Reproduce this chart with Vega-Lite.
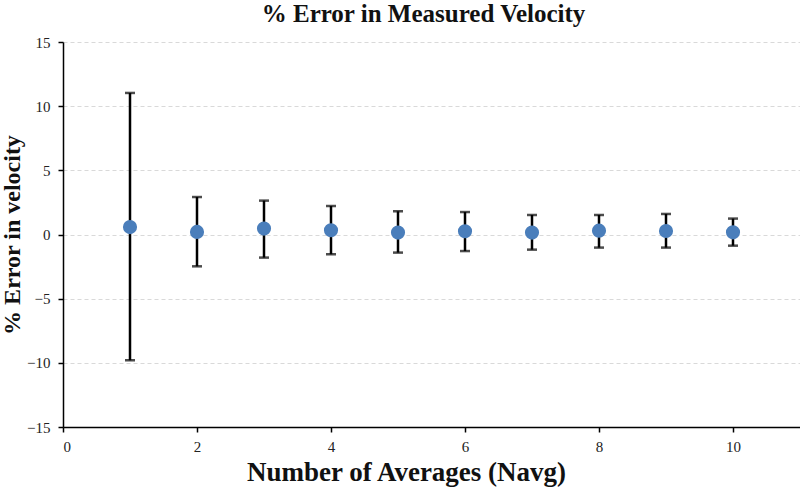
{
  "$schema": "https://vega.github.io/schema/vega-lite/v6.json",
  "autosize": "none",
  "width": 737,
  "height": 385,
  "padding": {"left": 63, "top": 42, "right": 0, "bottom": 61},
  "background": "white",
  "config": {
    "view": {"stroke": null},
    "font": "Liberation Serif"
  },
  "title": {
    "text": "% Error in Measured Velocity",
    "font": "Liberation Serif",
    "fontSize": 25,
    "fontWeight": "bold",
    "color": "#111",
    "offset": 8,
    "dx": -8
  },
  "data": {
    "values": [
      {"n": 1, "err": 0.58, "lo": -9.8, "hi": 11.03},
      {"n": 2, "err": 0.2, "lo": -2.48, "hi": 2.92},
      {"n": 3, "err": 0.46, "lo": -1.8, "hi": 2.64},
      {"n": 4, "err": 0.33, "lo": -1.54, "hi": 2.22},
      {"n": 5, "err": 0.15, "lo": -1.41, "hi": 1.81},
      {"n": 6, "err": 0.25, "lo": -1.29, "hi": 1.75},
      {"n": 7, "err": 0.15, "lo": -1.18, "hi": 1.52},
      {"n": 8, "err": 0.3, "lo": -1.02, "hi": 1.52},
      {"n": 9, "err": 0.27, "lo": -1.02, "hi": 1.6},
      {"n": 10, "err": 0.17, "lo": -0.87, "hi": 1.24}
    ]
  },
  "encoding": {
    "x": {
      "field": "n",
      "type": "quantitative",
      "scale": {"domain": [0, 11], "nice": false},
      "axis": {
        "title": "Number of Averages (Navg)",
        "titleFont": "Liberation Serif",
        "titleFontSize": 27,
        "titleFontWeight": "bold",
        "titleColor": "#111",
        "titleX": 343,
        "titleY": 53,
        "titleAlign": "center",
        "titleBaseline": "alphabetic",
        "values": [0, 2, 4, 6, 8, 10],
        "format": "d",
        "grid": false,
        "domainColor": "#000",
        "domainWidth": 1.5,
        "tickColor": "#000",
        "tickWidth": 1.5,
        "tickSize": 5,
        "labelFont": "Liberation Serif",
        "labelFontSize": 15,
        "labelColor": "#222",
        "labelPadding": 7
      }
    }
  },
  "layer": [
    {
      "mark": {"type": "rule", "color": "#000", "strokeWidth": 2.5},
      "encoding": {
        "y": {
          "field": "lo",
          "type": "quantitative",
          "scale": {"domain": [-15, 15], "nice": false},
          "axis": {
            "title": "% Error in velocity",
            "titleFont": "Liberation Serif",
            "titleFontSize": 24,
            "titleFontWeight": "bold",
            "titleColor": "#111",
            "titlePadding": 2,
            "values": [-15, -10, -5, 0, 5, 10, 15],
            "format": "d",
            "grid": true,
            "gridColor": "#d9d9d9",
            "gridDash": [4, 3],
            "gridWidth": 1,
            "domainColor": "#000",
            "domainWidth": 1.5,
            "tickColor": "#000",
            "tickWidth": 1.5,
            "tickSize": 5,
            "labelFont": "Liberation Serif",
            "labelFontSize": 15,
            "labelColor": "#222",
            "labelPadding": 8
          }
        },
        "y2": {"field": "hi"}
      }
    },
    {
      "mark": {"type": "tick", "color": "#000", "thickness": 2.5, "size": 10, "orient": "horizontal"},
      "encoding": {"y": {"field": "hi", "type": "quantitative"}}
    },
    {
      "mark": {"type": "tick", "color": "#000", "thickness": 2.5, "size": 10, "orient": "horizontal"},
      "encoding": {"y": {"field": "lo", "type": "quantitative"}}
    },
    {
      "mark": {"type": "circle", "color": "#4a7ebb", "opacity": 1, "size": 200},
      "encoding": {"y": {"field": "err", "type": "quantitative"}}
    }
  ]
}
